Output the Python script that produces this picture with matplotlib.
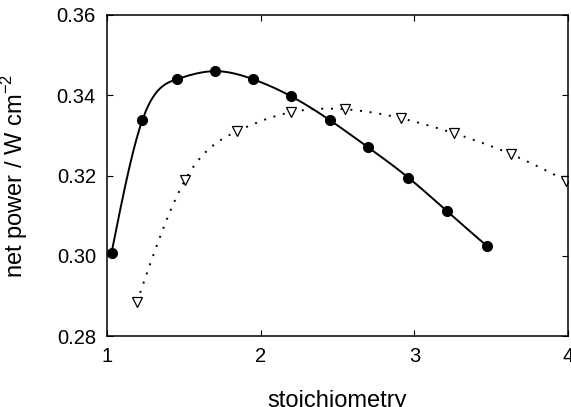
import numpy as np
import matplotlib
matplotlib.use("Agg")
import matplotlib.pyplot as plt

stoich_a = [1.03, 1.23, 1.455, 1.70, 1.95, 2.20, 2.45, 2.70, 2.96, 3.21, 3.47]
power_a = [0.3008, 0.3338, 0.3440, 0.3460, 0.3440, 0.3397, 0.3338, 0.3270, 0.3195, 0.3112, 0.3025]

stoich_b = [1.195, 1.51, 1.845, 2.20, 2.55, 2.91, 3.26, 3.63, 3.99]
power_b = [0.2885, 0.3190, 0.3310, 0.3358, 0.3365, 0.3343, 0.3305, 0.3253, 0.3187]


def spline(x, y, n=300):
    # natural cubic spline, only used to draw the smooth line through the markers
    x = np.asarray(x, float)
    y = np.asarray(y, float)
    k = len(x)
    h = np.diff(x)
    A = np.zeros((k, k))
    r = np.zeros(k)
    A[0, 0] = A[-1, -1] = 1
    for i in range(1, k - 1):
        A[i, i - 1] = h[i - 1]
        A[i, i] = 2 * (h[i - 1] + h[i])
        A[i, i + 1] = h[i]
        r[i] = 3 * ((y[i + 1] - y[i]) / h[i] - (y[i] - y[i - 1]) / h[i - 1])
    c = np.linalg.solve(A, r)
    b = (y[1:] - y[:-1]) / h - h * (2 * c[:-1] + c[1:]) / 3
    d = (c[1:] - c[:-1]) / (3 * h)
    xs = np.linspace(x[0], x[-1], n)
    j = np.clip(np.searchsorted(x, xs) - 1, 0, k - 2)
    t = xs - x[j]
    ys = y[j] + b[j] * t + c[j] * t ** 2 + d[j] * t ** 3
    return xs, ys


plt.rcParams['font.family'] = ['Liberation Sans', 'DejaVu Sans']
plt.rcParams['mathtext.fontset'] = 'custom'
plt.rcParams['mathtext.rm'] = 'Liberation Sans'

fig = plt.figure(figsize=(5.71, 4.07), dpi=100)
ax = fig.add_axes([107 / 571, 1 - 336 / 407, (568 - 107) / 571, (336 - 15) / 407])

xs, ys = spline(stoich_a, power_a)
ax.plot(xs, ys, color='black', lw=1.4)
ax.plot(stoich_a, power_a, 'o', color='black', ms=7)

xs, ys = spline(stoich_b, power_b)
ax.plot(xs, ys, color='black', lw=1.4, linestyle=(0, (1, 4)))
ax.plot(stoich_b, power_b, 'v', mfc='white', mec='black', ms=6.5, mew=0.9)

ax.set_xlim(1, 4)
ax.set_ylim(0.28, 0.36)
ax.set_xticks([1, 2, 3, 4])
ax.set_yticks([0.28, 0.30, 0.32, 0.34, 0.36])
ax.set_yticklabels(['0.28', '0.30', '0.32', '0.34', '0.36'])
ax.tick_params(direction='in', top=True, right=True, labelsize=14.5, length=4, pad=8)
for s in ax.spines.values():
    s.set_linewidth(1.1)

ax.set_xlabel('stoichiometry', fontsize=17)
ax.xaxis.set_label_coords(0.5, -0.168)
ax.set_ylabel('net power / W cm$^{\\mathregular{-2}}$', fontsize=17)
ax.yaxis.set_label_coords(-0.167, 0.5)

fig.savefig('out.png', dpi=100)
